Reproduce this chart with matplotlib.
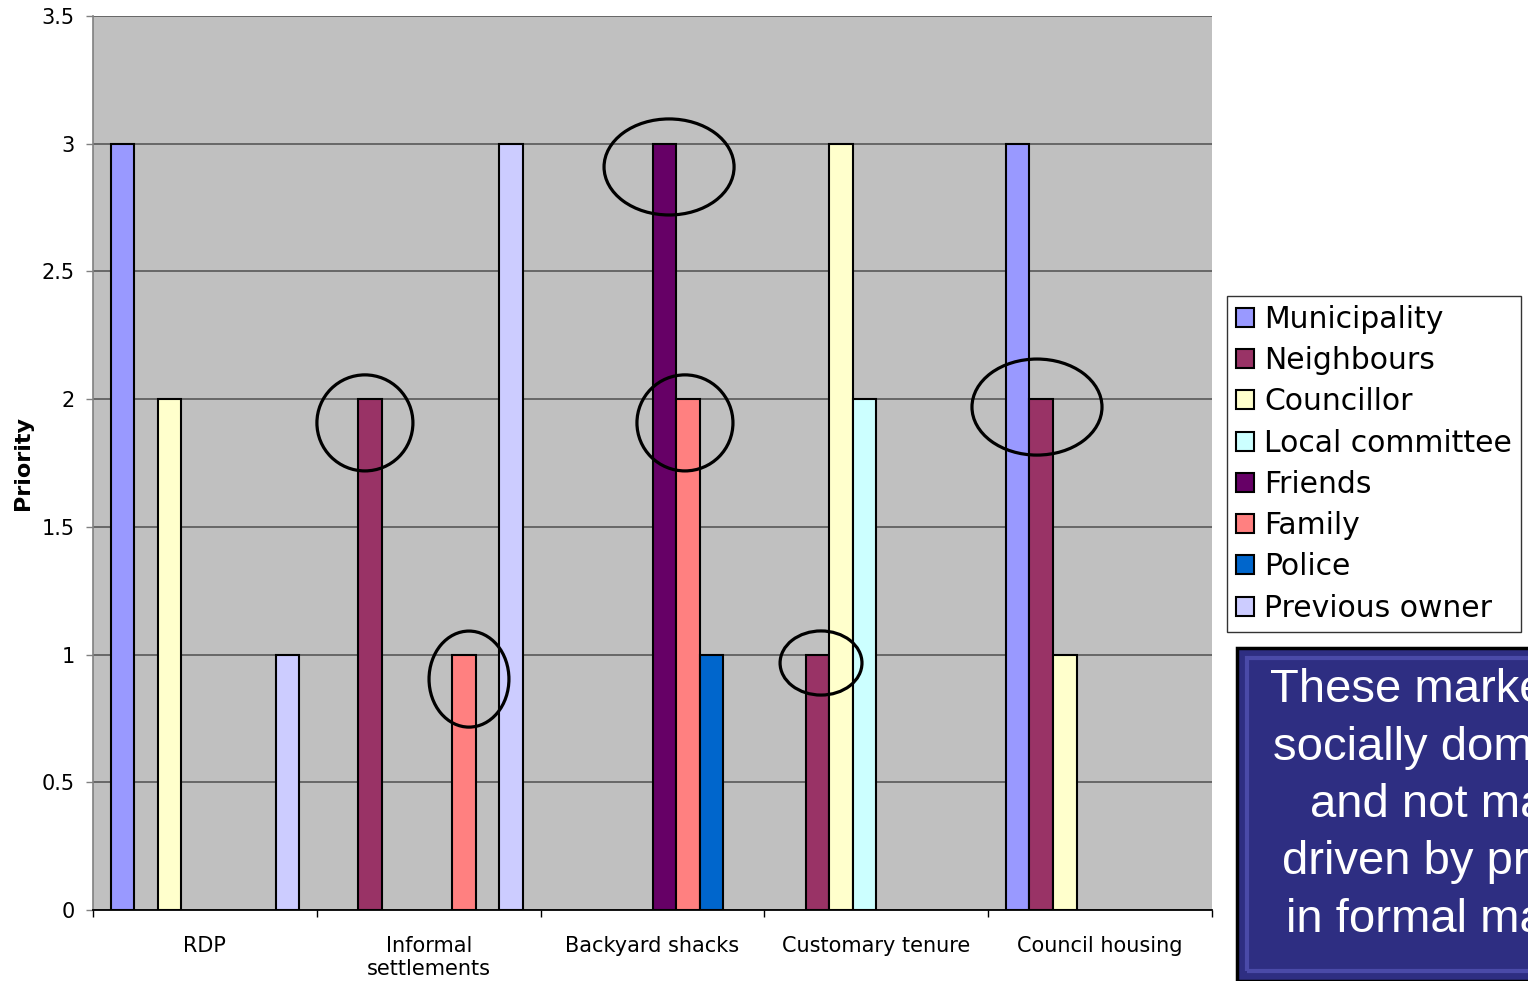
import matplotlib
matplotlib.use("Agg")
import matplotlib.pyplot as plt
import numpy as np
from matplotlib.patches import Ellipse, Rectangle

categories = ["RDP", "Informal\nsettlements", "Backyard shacks", "Customary tenure", "Council housing"]
series_names = ["Municipality", "Neighbours", "Councillor", "Local committee",
                "Friends", "Family", "Police", "Previous owner"]
municipality = [3, 0, 0, 0, 3]
neighbours = [0, 2, 0, 1, 2]
councillor = [2, 0, 0, 3, 1]
local_committee = [0, 0, 0, 2, 0]
friends = [0, 0, 3, 0, 0]
family = [0, 1, 2, 0, 0]
police = [0, 0, 1, 0, 0]
previous_owner = [1, 3, 0, 0, 0]
series_values = [municipality, neighbours, councillor, local_committee,
                 friends, family, police, previous_owner]
colors = ["#9999FF", "#993366", "#FFFFCC", "#CCFFFF", "#660066", "#FF8080", "#0066CC", "#CCCCFF"]

y_ticks = [0, 0.5, 1, 1.5, 2, 2.5, 3, 3.5]
y_tick_labels = ["0", "0.5", "1", "1.5", "2", "2.5", "3", "3.5"]

# highlight ellipses: (x centre, y centre, width, height) in data units
highlights = [(2.074, 2.909, 0.581, 0.376),
              (0.715, 1.907, 0.429, 0.376),
              (2.145, 1.907, 0.429, 0.376),
              (3.718, 1.969, 0.581, 0.376),
              (1.180, 0.904, 0.357, 0.376),
              (2.753, 0.967, 0.366, 0.251)]

note_lines = ["These markets are", "socially dominated", "and not market",
              "driven by price as", "in formal markets"]

W, H = 1528, 981
fig = plt.figure(figsize=(W / 100, H / 100), dpi=100)
ax = fig.add_axes([93 / W, (H - 910) / H, (1212 - 93) / W, (910 - 16) / H])
ax.set_facecolor("#C0C0C0")

n = len(series_names)
bw = 1 / (n + 1.5)
x = np.arange(len(categories))
for j, (name, vals, col) in enumerate(zip(series_names, series_values, colors)):
    vals = np.array(vals, dtype=float)
    mask = vals > 0
    ax.bar(x[mask] + (j - (n - 1) / 2) * bw, vals[mask], width=bw, color=col,
           edgecolor="black", linewidth=1.5, label=name, zorder=3)

ax.set_xlim(-0.5, len(categories) - 0.5)
ax.set_ylim(0, 3.5)
ax.set_yticks(y_ticks)
ax.set_yticklabels(y_tick_labels)
ax.yaxis.grid(True, color="#606060", linewidth=1.3, zorder=1)
ax.set_axisbelow(True)

ax.set_xticks(x)
ax.set_xticklabels(categories, fontsize=15, linespacing=1.15)
ax.set_xticks(np.arange(len(categories) + 1) - 0.5, minor=True)
ax.tick_params(axis="x", which="major", length=0, pad=19)
ax.tick_params(axis="x", which="minor", length=5, width=1, color="black")
ax.tick_params(axis="y", length=5, width=1, color="#808080", pad=8, labelsize=15)

for s in ["top", "right"]:
    ax.spines[s].set_visible(False)
ax.spines["left"].set_color("#808080")
ax.spines["left"].set_linewidth(1.2)
ax.spines["bottom"].set_color("black")
ax.spines["bottom"].set_linewidth(1.3)

ax.set_ylabel("Priority", fontsize=16, fontweight="bold")
ax.yaxis.set_label_coords(-(93 - 33) / (1212 - 93), 0.5)

for (cx, cy, ew, eh) in highlights:
    ax.add_patch(Ellipse((cx, cy), ew, eh, fill=False, edgecolor="black",
                         linewidth=2.3, zorder=5, clip_on=False))

leg = fig.legend(loc="upper left", bbox_to_anchor=(1227 / W, 1 - 296 / H),
                 fontsize=21.5, frameon=True, fancybox=False, borderaxespad=0,
                 borderpad=0.3, handlelength=0.6, handleheight=0.6,
                 handletextpad=0.35, labelspacing=0.41)
leg.get_frame().set_edgecolor("black")
leg.get_frame().set_linewidth(1.0)

# note box
fig.patches.append(Rectangle((1237 / W, 0), 400 / W, (H - 648) / H, transform=fig.transFigure,
                             facecolor="#2E2E82", edgecolor="black", linewidth=2.5))
fig.patches.append(Rectangle((1247 / W, 10 / H), 400 / W, (H - 668) / H, transform=fig.transFigure,
                             facecolor="none", edgecolor="#4A4AA8", linewidth=3))
for i, line in enumerate(note_lines):
    fig.text(1467 / W, 1 - (690 + 57.5 * i) / H, line, ha="center", va="center",
             color="white", fontsize=34, family="Liberation Sans")

fig.savefig("out.png", dpi=100)
